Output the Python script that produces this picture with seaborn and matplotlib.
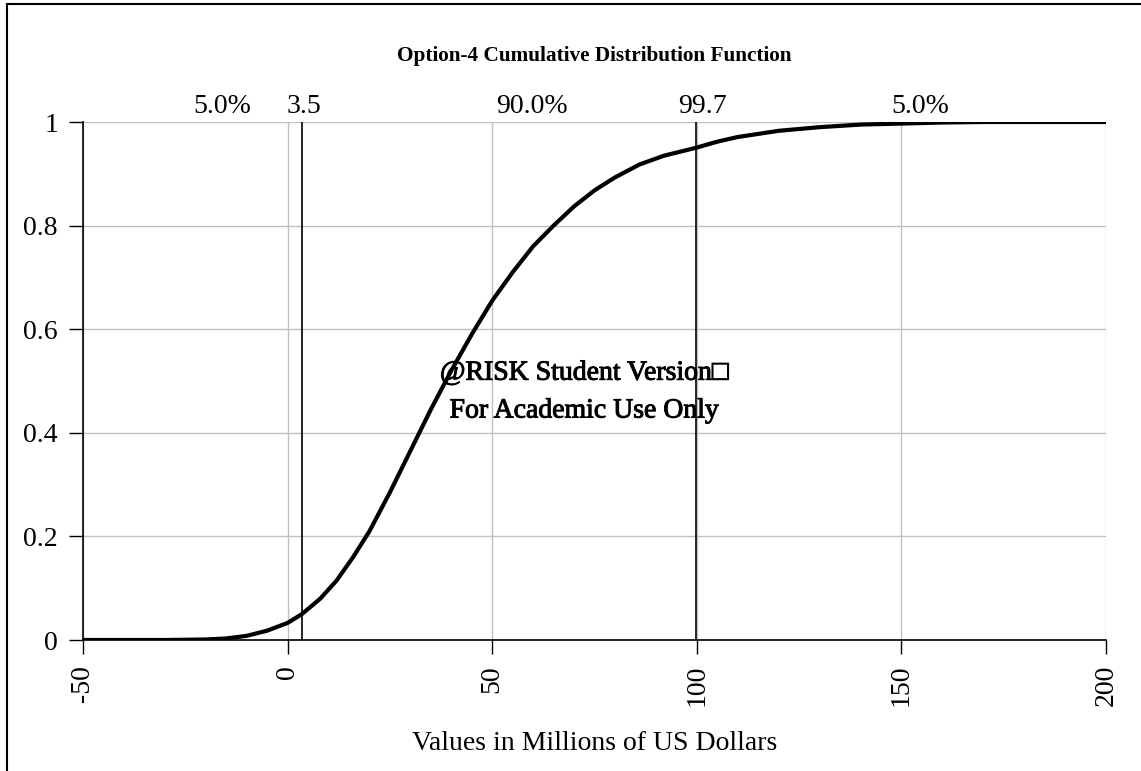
import matplotlib
matplotlib.use("Agg")
import matplotlib.pyplot as plt
import matplotlib.patheffects as pe
import seaborn as sns
import pandas as pd
from matplotlib.patches import Rectangle

# cumulative distribution
values = [-50, -30, -20, -15, -10, -5, 0, 3.5, 8, 12, 16, 20, 25, 30, 35, 40,
          45, 50, 55, 60, 65, 70, 75, 80, 86, 92, 99.7, 105, 110, 120, 130,
          140, 150, 160, 170, 200]
cum_prob = [0.0, 0.0, 0.001, 0.003, 0.008, 0.018, 0.033, 0.05, 0.08, 0.115,
            0.16, 0.21, 0.285, 0.365, 0.445, 0.52, 0.59, 0.655, 0.71, 0.76,
            0.80, 0.837, 0.868, 0.893, 0.918, 0.935, 0.95, 0.962, 0.971,
            0.983, 0.99, 0.995, 0.997, 0.999, 1.0, 1.0]

markers = [3.5, 99.7]
top_labels = [(-16, "5.0%"), (4, "3.5"), (59.7, "90.0%"), (101.3, "99.7"), (154.5, "5.0%")]

df = pd.DataFrame({"value": values, "prob": cum_prob})

sns.set_style("white")
plt.rcParams["font.family"] = ["Liberation Serif", "DejaVu Serif"]
plt.rcParams["axes.unicode_minus"] = False
for k in ["text.color", "axes.labelcolor", "xtick.color", "ytick.color"]:
    plt.rcParams[k] = "black"

fig = plt.figure(figsize=(11.41, 7.71), dpi=100)
ax = fig.add_axes([83 / 1141, 1 - 640 / 771, 1023 / 1141, 518 / 771])

sns.lineplot(data=df, x="value", y="prob", color="black", linewidth=3, ax=ax)

for m in markers:
    ax.axvline(m, color="black", linewidth=1.2, zorder=3)

ax.set_xlim(-50, 200)
ax.set_ylim(0, 1)
ax.set_xticks(range(-50, 201, 50))
ax.set_yticks([0, 0.2, 0.4, 0.6, 0.8, 1])
ax.set_yticklabels(["0", "0.2", "0.4", "0.6", "0.8", "1"])
ax.grid(True, color="#c0c0c0", linewidth=1)
ax.set_axisbelow(True)
ax.tick_params(axis="both", labelsize=20, length=10, width=1, color="black",
               labelcolor="black", direction="out", bottom=True, left=True, pad=8)
ax.tick_params(axis="x", labelrotation=90)
for s in ["top", "right"]:
    ax.spines[s].set_visible(False)
for s in ["left", "bottom"]:
    ax.spines[s].set_color("black")
    ax.spines[s].set_linewidth(1.2)

ax.set_xlabel("Values in Millions of US Dollars", fontsize=20, labelpad=18)
ax.set_ylabel("")

for x, t in top_labels:
    ax.text(x, 1.006, t, ha="center", va="bottom", fontsize=20)

ax.set_title("Option-4 Cumulative Distribution Function", fontsize=15.3,
             fontweight="bold", pad=44)

stroke = [pe.withStroke(linewidth=0.7, foreground="black")]
ax.text(0.49, 0.515, "@RISK Student Version\u25a1", transform=ax.transAxes,
        ha="center", va="center", fontsize=20, path_effects=stroke)
ax.text(0.49, 0.442, "For Academic Use Only", transform=ax.transAxes,
        ha="center", va="center", fontsize=20, path_effects=stroke)

fig.patches.append(Rectangle((7 / 1141, -0.05), 1.2, 1.05 - 4 / 771,
                             transform=fig.transFigure, fill=False,
                             edgecolor="black", linewidth=1.5))

fig.savefig("out.png", dpi=100)
